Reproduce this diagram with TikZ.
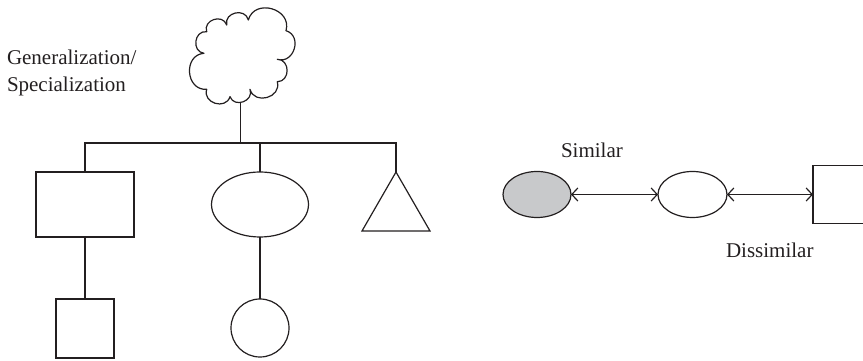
\documentclass[tikz,border=0pt]{standalone}
\usepackage{fontspec}
\setmainfont{Liberation Serif}
\usetikzlibrary{shapes.geometric,arrows.meta}
\definecolor{ink}{RGB}{35,31,32}
\definecolor{shade}{RGB}{200,201,203}
\begin{document}
\begin{tikzpicture}[x=1pt,y=1pt,
  line width=1.2pt,
  every node/.style={inner sep=0pt,outer sep=0pt},
  shapebox/.style={draw=ink,line width=1.2pt,rectangle},
  oval/.style={draw=ink,line width=1.2pt,ellipse},
  label text/.style={font=\fontsize{21}{27}\selectfont,text=ink,anchor=base west},
  link/.style={draw=ink,line width=1.2pt},
  twoway/.style={draw=ink,line width=1.2pt,{Straight Barb[length=6pt,width=13pt]}-{Straight Barb[length=6pt,width=13pt]}},
  puff/.style={bend right=90,looseness=1.5}]
\useasboundingbox (0,0) rectangle (863,361);
\clip (0,0) rectangle (863,361);

% cloud
\draw[ink,line width=1.2pt,line join=round]
  (248.3,341) to[puff] (226.7,336) to[puff] (206.7,329.3) to[puff] (204,307.7)
  to[puff] (206.7,271.7) to[puff] (230,264.3) to[puff] (250,271.7)
  to[puff] (277.3,279.3) to[puff] (277.3,301.7) to[puff] (286,330.3)
  to[puff] (248.3,341) -- cycle;
\coordinate (cloud) at (240.7,259);
\coordinate (hub) at (240.7,218);

% hierarchy
\node[shapebox,minimum width=98pt,minimum height=65pt] (rect) at (85,156.5) {};
\node[oval,minimum width=97pt,minimum height=65pt] (ell) at (260,156.5) {};
\coordinate (tri) at (396,189);
\draw[ink,line width=1.2pt,line join=miter] (tri) -- (362,130) -- (430,130) -- cycle;
\node[shapebox,minimum width=58pt,minimum height=59pt] (sq) at (85,32.5) {};
\node[draw=ink,line width=1.2pt,circle,minimum size=58pt] (circ) at (260,33) {};

\draw[link] (cloud) -- (hub);
\draw[link] (rect.north) |- (hub) -| (tri);
\draw[link] (ell.north) -- (ell.north |- hub);
\draw[link] (rect.south) -- (sq.north);
\draw[link] (ell.south) -- (circ.north);

\node[label text] (gen1) at (7,296) {Generalization/};
\node[label text] (gen2) at (7,269) {Specialization};

% similarity chain
\node[oval,fill=shade,minimum width=68pt,minimum height=46pt] (g) at (537,166.5) {};
\node[oval,minimum width=69pt,minimum height=46pt] (w) at (692.5,166.5) {};
\node[shapebox,minimum width=58pt,minimum height=58pt] (rs) at (842,166.5) {};
\draw[twoway] (g.east) -- (w.west);
\draw[twoway] (w.east) -- (rs.west);

\node[label text] (sim) at (561,203) {Similar};
\node[label text] (dis) at (726,103) {Dissimilar};
\end{tikzpicture}
\end{document}
